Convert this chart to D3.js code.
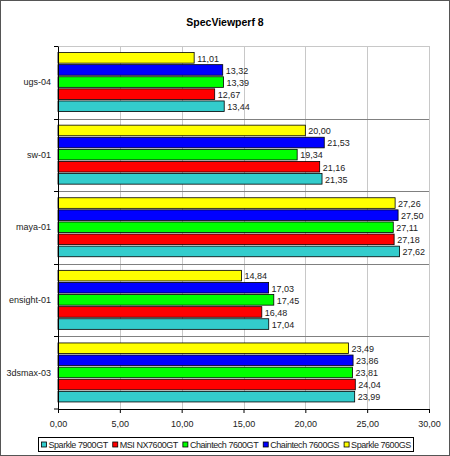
<!DOCTYPE html>
<html><head><meta charset="utf-8">
<script src="https://cdn.jsdelivr.net/npm/d3@7/dist/d3.min.js"></script>
<style>body{margin:0;background:#fff}svg{display:block}text{font-family:"Liberation Sans",Arial,sans-serif}</style>
</head><body><svg id="c" width="450" height="456"></svg>
<script>
const categories = ["ugs-04", "sw-01", "maya-01", "ensight-01", "3dsmax-03"];
const seriesNames = ["Sparkle 7900GT", "MSI NX7600GT", "Chaintech 7600GT", "Chaintech 7600GS", "Sparkle 7600GS"];
const seriesColors = ["#33CCCC", "#FF0000", "#00FF00", "#0000FF", "#FFFF00"];
const sparkle7900GT = [13.44, 21.35, 27.62, 17.04, 23.99];
const msiNX7600GT = [12.67, 21.16, 27.18, 16.48, 24.04];
const chaintech7600GT = [13.39, 19.34, 27.11, 17.45, 23.81];
const chaintech7600GS = [13.32, 21.53, 27.50, 17.03, 23.86];
const sparkle7600GS = [11.01, 20.00, 27.26, 14.84, 23.49];
const xTicks = [0, 5, 10, 15, 20, 25, 30];
const seriesValues = [sparkle7900GT, msiNX7600GT, chaintech7600GT, chaintech7600GS, sparkle7600GS];

const svg = d3.select("#c");
const fmt = v => d3.format(".2f")(v).replace(".", ",");
const L = 58, R = 429, T = 46, B = 409;
const FS = 9;

svg.append("rect").attr("x", 0.5).attr("y", 0.5).attr("width", 449).attr("height", 455)
  .attr("fill", "#fff").attr("stroke", "#555").attr("stroke-width", 1);

svg.append("text").attr("x", 225).attr("y", 26).attr("text-anchor", "middle")
  .attr("font-size", 10.5).attr("font-weight", "bold").text("SpecViewperf 8");

const x = d3.scaleLinear().domain([0, 30]).range([L, R]);
const y = d3.scaleBand().domain(categories).range([T, B]).paddingInner(0).paddingOuter(0);
const inner = d3.scaleBand().domain(d3.range(5).reverse()).range([0, y.bandwidth()]).paddingInner(0).paddingOuter(0.5);

svg.append("g").selectAll("line").data(xTicks.slice(1)).join("line")
  .attr("x1", d => Math.round(x(d)) + 0.5).attr("x2", d => Math.round(x(d)) + 0.5)
  .attr("y1", T).attr("y2", B).attr("stroke", "#c8c8c8");
svg.append("line").attr("x1", L).attr("x2", R + 0.5).attr("y1", T + 0.5).attr("y2", T + 0.5).attr("stroke", "#c8c8c8");
svg.append("g").selectAll("line").data(categories.slice(1)).join("line")
  .attr("x1", L).attr("x2", R).attr("y1", d => Math.round(y(d)) + 0.5).attr("y2", d => Math.round(y(d)) + 0.5)
  .attr("stroke", "#808080");

const g = svg.append("g");
categories.forEach((c, ci) => {
  seriesValues.forEach((vals, si) => {
    const by = y(c) + inner(si);
    const h = inner.bandwidth();
    g.append("rect").attr("x", x(0)).attr("y", by + 0.5).attr("width", x(vals[ci]) - x(0)).attr("height", h - 1.5)
      .attr("fill", seriesColors[si]).attr("stroke", "#000").attr("stroke-width", 0.8);
    g.append("text").attr("x", x(vals[ci]) + 3).attr("y", by + h / 2 + 3.5)
      .attr("font-size", FS).attr("fill", "#222").text(fmt(vals[ci]));
  });
});

const xAxis = d3.axisBottom(x).tickValues(xTicks).tickFormat(fmt).tickSize(4).tickSizeOuter(0);
const gx = svg.append("g").attr("transform", `translate(0,${B})`).call(xAxis);
gx.select(".domain").attr("stroke", "#000");
gx.selectAll(".tick line").attr("stroke", "#000");
gx.selectAll("text").attr("font-size", FS).attr("fill", "#222").attr("dy", "1.25em")
  .attr("font-family", "Liberation Sans, Arial, sans-serif");

const yAxis = d3.axisLeft(y).tickSize(0).tickPadding(7);
const gy = svg.append("g").attr("transform", `translate(${L},0)`).call(yAxis);
gy.select(".domain").attr("stroke", "#000");
gy.selectAll("text").attr("font-size", FS).attr("fill", "#222").attr("font-family", "Liberation Sans, Arial, sans-serif");
svg.append("g").selectAll("line").data(categories.concat(["__end"])).join("line")
  .attr("x1", L - 4).attr("x2", L)
  .attr("y1", d => d === "__end" ? B : Math.round(y(d)) + 0.5)
  .attr("y2", d => d === "__end" ? B : Math.round(y(d)) + 0.5)
  .attr("stroke", "#000");

// legend
const lg = svg.append("g");
const box = lg.append("rect").attr("y", 437.5).attr("height", 14).attr("fill", "#fff").attr("stroke", "#000");
const content = lg.append("g");
let lx = 0;
seriesNames.forEach((n, i) => {
  content.append("rect").attr("x", lx).attr("y", 442).attr("width", 5).attr("height", 5)
    .attr("fill", seriesColors[i]).attr("stroke", "#000").attr("stroke-width", 0.8);
  const t = content.append("text").attr("x", lx + 7).attr("y", 448).attr("font-size", FS)
    .attr("letter-spacing", "-0.45px").attr("fill", "#222").text(n);
  lx += 7 + t.node().getComputedTextLength() + 5;
});
const total = lx - 5;
const boxW = Math.round(total + 6);
const bx = Math.round(225 - boxW / 2) + 0.5;
box.attr("x", bx).attr("width", boxW);
content.attr("transform", `translate(${bx + 3},0)`);
</script></body></html>
